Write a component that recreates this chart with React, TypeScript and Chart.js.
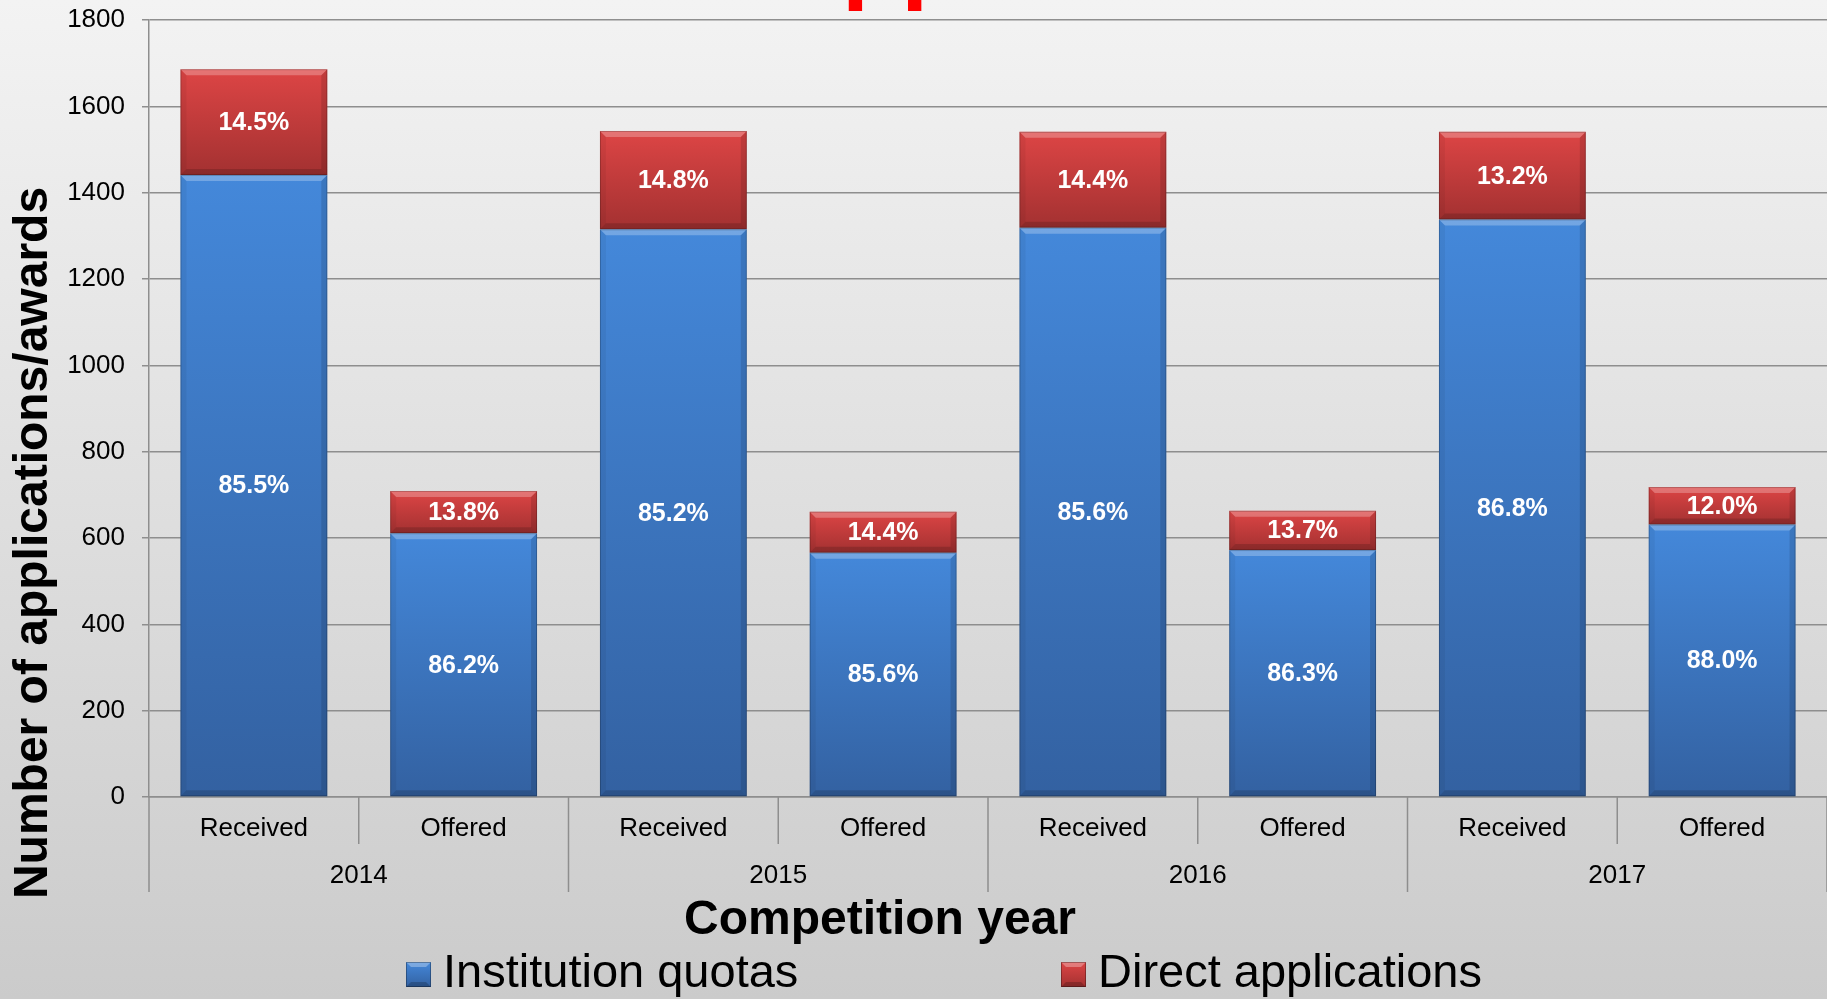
import React, { useEffect, useRef } from "react";
import { Chart, registerables } from "chart.js";

Chart.register(...registerables);

const categories = ["Received", "Offered", "Received", "Offered", "Received", "Offered", "Received", "Offered"];
const years = ["2014", "2015", "2016", "2017"];
const institutionQuotas = [1441, 611, 1315, 566, 1319, 572, 1338, 631];
const directApplications = [245, 98, 228, 95, 222, 91, 203, 87];
const institutionLabels = ["85.5%", "86.2%", "85.2%", "85.6%", "85.6%", "86.3%", "86.8%", "88.0%"];
const directLabels = ["14.5%", "13.8%", "14.8%", "14.4%", "14.4%", "13.7%", "13.2%", "12.0%"];
const seriesNames = ["Institution quotas", "Direct applications"];
const yMin = 0;
const yMax = 1800;
const yStep = 200;
const yTitle = "Number of applications/awards";
const xTitle = "Competition year";
const cutTitle = "Applications";

const FONT = "'Liberation Sans', Arial, sans-serif";
const GRID = "#8e8e8e";
const BLUE = ["#4488da", "#3361a1"];
const RED = ["#dd4545", "#a33131"];

function segGradient(ctx: any, colors: string[]) {
  const chart = ctx.chart;
  const scales = chart.scales;
  if (ctx.type !== "data" || !scales || !scales.y) return colors[0];
  const i = ctx.dataIndex;
  const ds = ctx.datasetIndex;
  let start = 0;
  for (let d = 0; d < ds; d++) start += chart.data.datasets[d].data[i] as number;
  const v = chart.data.datasets[ds].data[i] as number;
  const yTop = scales.y.getPixelForValue(start + v);
  const yBot = scales.y.getPixelForValue(start);
  if (!isFinite(yTop) || !isFinite(yBot) || yTop === yBot) return colors[0];
  const g = chart.ctx.createLinearGradient(0, yTop, 0, yBot);
  g.addColorStop(0, colors[0]);
  g.addColorStop(1, colors[1]);
  return g;
}

function drawMarker(c: CanvasRenderingContext2D, x: number, y: number, s: number, colors: string[]) {
  const g = c.createLinearGradient(0, y, 0, y + s);
  g.addColorStop(0, colors[0]);
  g.addColorStop(1, colors[1]);
  c.fillStyle = g;
  c.fillRect(x, y, s, s);
  const b = 5;
  c.fillStyle = "rgba(255,255,255,0.3)";
  c.beginPath();
  c.moveTo(x, y);
  c.lineTo(x + s, y);
  c.lineTo(x + s - b, y + b);
  c.lineTo(x + b, y + b);
  c.closePath();
  c.fill();
  c.fillStyle = "rgba(0,0,0,0.2)";
  c.beginPath();
  c.moveTo(x, y + s);
  c.lineTo(x + s, y + s);
  c.lineTo(x + s - b, y + s - b);
  c.lineTo(x + b, y + s - b);
  c.closePath();
  c.fill();
  c.strokeStyle = "rgba(0,0,0,0.3)";
  c.lineWidth = 1;
  c.strokeRect(x + 0.5, y + 0.5, s - 1, s - 1);
}

const decorPlugin = {
  id: "decor",
  afterDatasetsDraw(chart: any) {
    const c: CanvasRenderingContext2D = chart.ctx;
    c.save();
    chart.data.datasets.forEach((_: any, di: number) => {
      const meta = chart.getDatasetMeta(di);
      meta.data.forEach((bar: any) => {
        const w = bar.width;
        const l = bar.x - w / 2;
        const r = bar.x + w / 2;
        const t = Math.min(bar.y, bar.base);
        const btm = Math.max(bar.y, bar.base);
        const b = 6;
        c.fillStyle = "rgba(255,255,255,0.25)";
        c.beginPath();
        c.moveTo(l, t);
        c.lineTo(r, t);
        c.lineTo(r - b, t + b);
        c.lineTo(l + b, t + b);
        c.closePath();
        c.fill();
        c.fillStyle = "rgba(0,0,0,0.05)";
        c.beginPath();
        c.moveTo(l, t);
        c.lineTo(l + b, t + b);
        c.lineTo(l + b, btm - b);
        c.lineTo(l, btm);
        c.closePath();
        c.fill();
        c.fillStyle = "rgba(0,0,0,0.12)";
        c.beginPath();
        c.moveTo(r, t);
        c.lineTo(r - b, t + b);
        c.lineTo(r - b, btm - b);
        c.lineTo(r, btm);
        c.closePath();
        c.fill();
        c.fillStyle = "rgba(0,0,0,0.15)";
        c.beginPath();
        c.moveTo(l, btm);
        c.lineTo(r, btm);
        c.lineTo(r - b, btm - b);
        c.lineTo(l + b, btm - b);
        c.closePath();
        c.fill();
        c.strokeStyle = "rgba(0,0,0,0.2)";
        c.lineWidth = 1;
        c.strokeRect(l + 0.5, t + 0.5, w - 1, btm - t - 1);
      });
    });
    c.restore();
  },
  afterDraw(chart: any) {
    const c: CanvasRenderingContext2D = chart.ctx;
    const xs = chart.scales.x;
    const axisY = xs.top;
    c.save();

    const labelSets = [institutionLabels, directLabels];
    c.fillStyle = "#ffffff";
    c.font = `bold 25px ${FONT}`;
    c.textAlign = "center";
    c.textBaseline = "middle";
    chart.data.datasets.forEach((_: any, di: number) => {
      const meta = chart.getDatasetMeta(di);
      meta.data.forEach((bar: any, i: number) => {
        const cy = (bar.y + bar.base) / 2;
        c.fillText(labelSets[di][i], bar.x, cy + 1);
      });
    });

    c.strokeStyle = GRID;
    c.lineWidth = 1.5;
    const n = categories.length;
    for (let k = 0; k <= n; k++) {
      let bx: number;
      if (k === 0) bx = xs.left;
      else if (k === n) bx = xs.right;
      else bx = (xs.getPixelForValue(k - 1) + xs.getPixelForValue(k)) / 2;
      const len = k % 2 === 0 ? 95 : 47;
      c.beginPath();
      c.moveTo(bx, axisY);
      c.lineTo(bx, axisY + len);
      c.stroke();
    }

    c.fillStyle = "#000";
    c.font = `26px ${FONT}`;
    c.textAlign = "center";
    c.textBaseline = "middle";
    years.forEach((yr, j) => {
      const cx = (xs.getPixelForValue(2 * j) + xs.getPixelForValue(2 * j + 1)) / 2;
      c.fillText(yr, cx, axisY + 79);
    });

    c.save();
    c.translate(32, 543);
    c.rotate(-Math.PI / 2);
    c.font = `bold 48px ${FONT}`;
    c.textAlign = "center";
    c.textBaseline = "middle";
    c.fillStyle = "#000";
    c.fillText(yTitle, 0, 2);
    c.restore();

    c.font = `bold 48px ${FONT}`;
    c.textAlign = "center";
    c.textBaseline = "alphabetic";
    c.fillStyle = "#000";
    c.fillText(xTitle, 880, 934);

    c.font = `47px ${FONT}`;
    c.textAlign = "left";
    drawMarker(c, 406, 962, 25, BLUE);
    c.fillStyle = "#000";
    c.fillText(seriesNames[0], 443, 987);
    drawMarker(c, 1061, 962, 25, RED);
    c.fillStyle = "#000";
    c.fillText(seriesNames[1], 1098, 987);

    c.font = `bold 97px ${FONT}`;
    c.fillStyle = "#ff0000";
    c.textAlign = "left";
    c.textBaseline = "alphabetic";
    c.fillText(cutTitle, 772, -9);

    c.restore();
  },
};

export default function App() {
  const ref = useRef<HTMLCanvasElement | null>(null);

  useEffect(() => {
    document.body.style.margin = "0";
    const canvas = ref.current!;
    const chart = new Chart(canvas, {
      type: "bar",
      data: {
        labels: categories,
        datasets: [
          {
            label: seriesNames[0],
            data: institutionQuotas,
            backgroundColor: (ctx: any) => segGradient(ctx, BLUE),
            borderWidth: 0,
            barPercentage: 0.7,
            categoryPercentage: 1,
          },
          {
            label: seriesNames[1],
            data: directApplications,
            backgroundColor: (ctx: any) => segGradient(ctx, RED),
            borderWidth: 0,
            barPercentage: 0.7,
            categoryPercentage: 1,
          },
        ],
      },
      options: {
        responsive: false,
        animation: false,
        devicePixelRatio: 1,
        layout: { padding: { top: 20, left: 0, right: 0, bottom: 0 } },
        plugins: {
          legend: { display: false },
          tooltip: { enabled: false },
          title: { display: false },
        },
        scales: {
          x: {
            stacked: true,
            offset: true,
            grid: { display: false },
            border: { display: true, color: GRID, width: 1.5 },
            ticks: {
              color: "#000",
              font: { family: FONT, size: 26 },
              padding: 8,
              maxRotation: 0,
              autoSkip: false,
            },
            afterFit: (s: any) => {
              s.height = 202;
            },
          },
          y: {
            stacked: true,
            min: yMin,
            max: yMax,
            grid: { color: GRID, lineWidth: 1.5, tickLength: 7, drawTicks: true },
            border: { display: true, color: GRID, width: 1.5 },
            ticks: {
              stepSize: yStep,
              color: "#000",
              font: { family: FONT, size: 26 },
              padding: 17,
              callback: (v: any) => String(v),
            },
            afterFit: (s: any) => {
              s.width = 149;
              s.paddingTop = 0;
              s.paddingBottom = 0;
            },
          },
        },
      },
      plugins: [decorPlugin],
    });
    return () => chart.destroy();
  }, []);

  return (
    <div
      style={{
        position: "fixed",
        left: 0,
        top: 0,
        width: 1827,
        height: 999,
        background: "linear-gradient(#f3f3f3, #cbcbcb)",
      }}
    >
      <canvas ref={ref} width={1827} height={999} style={{ display: "block" }} />
    </div>
  );
}
